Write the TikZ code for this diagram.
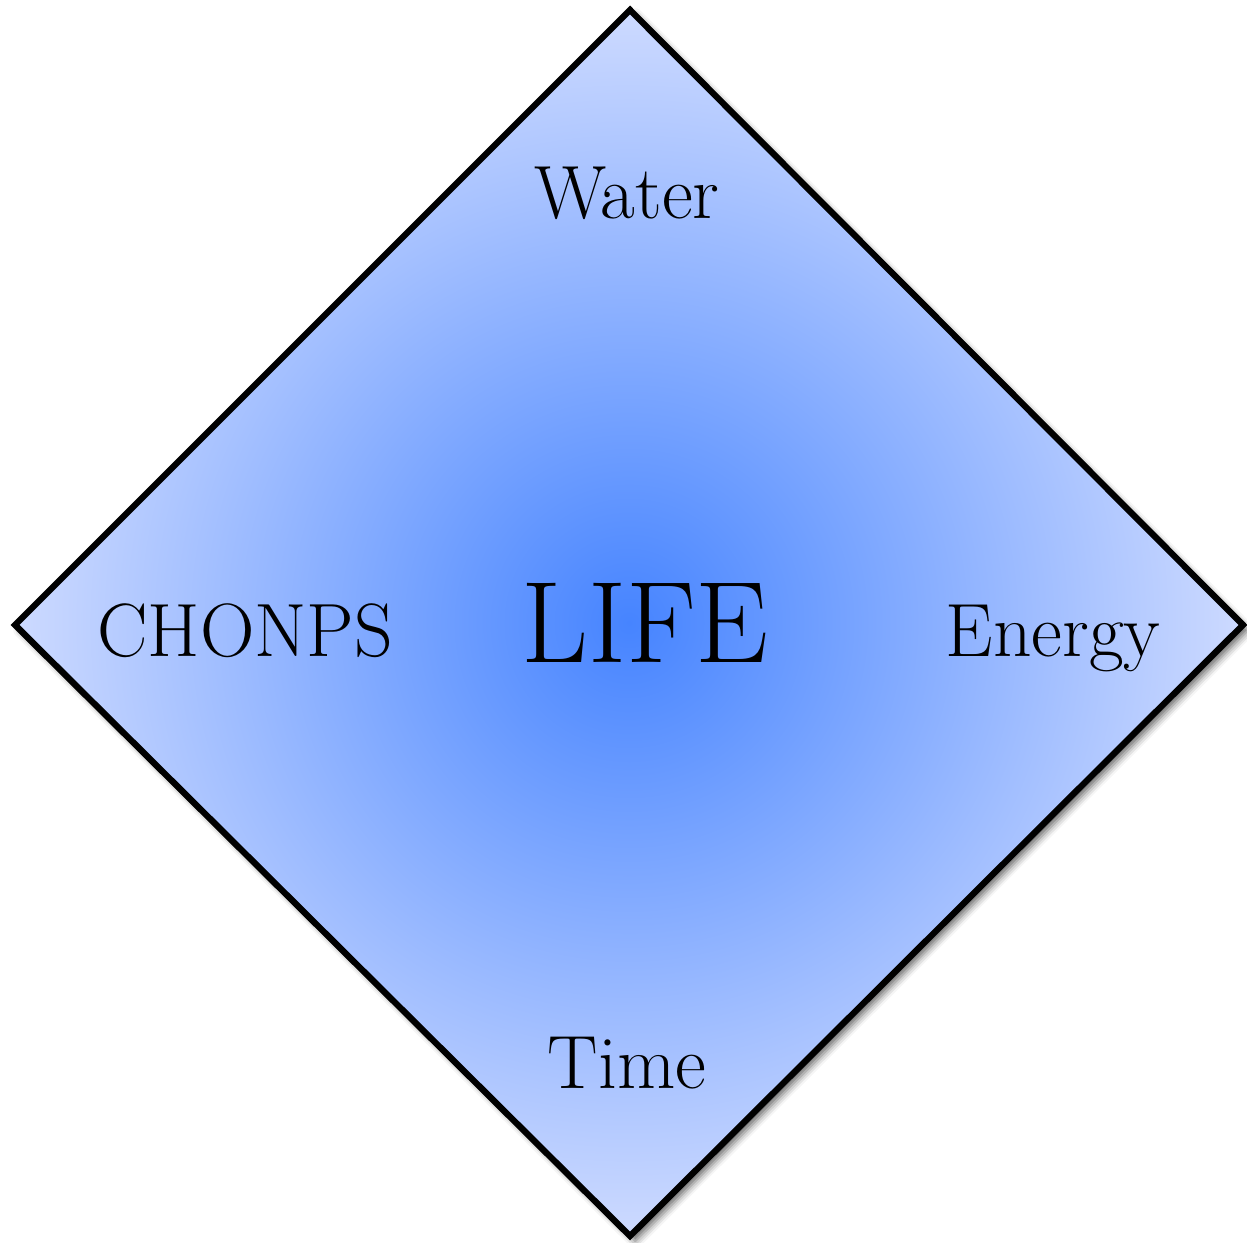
\documentclass[tikz,border=0pt]{standalone}
\usepackage{tikz}
\usetikzlibrary{shadows.blur,positioning}
\definecolor{lifecore}{RGB}{70,132,255}
\definecolor{lifeedge}{RGB}{205,218,255}
\tikzset{
  corner/.style={font=\fontsize{43}{43}\selectfont},
  core/.style={font=\fontsize{66}{66}\selectfont}
}
\begin{document}
\begin{tikzpicture}[x=0.02cm,y=0.02cm]
\useasboundingbox (0,0) rectangle (1247,1243);
% diamond with shading
\coordinate (top) at (630,1233);
\coordinate (rgt) at (1243,618);
\coordinate (bot) at (630,7);
\coordinate (lft) at (15,618);
\draw[line width=3.6pt,line join=miter,inner color=lifecore,outer color=lifeedge,
  blur shadow={shadow xshift=3pt,shadow yshift=-3pt,shadow blur radius=4pt,shadow opacity=60}]
  (top)--(rgt)--(bot)--(lft)--cycle;
\node[core] (life) at (645,620) {LIFE};
\node[corner] (water) at (627,1050) {Water};
\node[corner] (chonps) at (245,612) {CHONPS};
\node[corner] (energy) at (1053,605) {Energy};
\node[corner] (time) at (627,180) {Time};
\end{tikzpicture}
\end{document}
